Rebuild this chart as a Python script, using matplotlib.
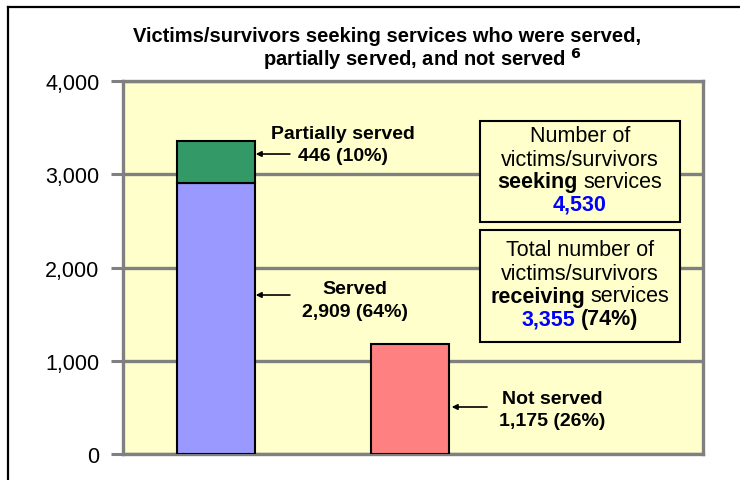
import matplotlib
matplotlib.use("Agg")
import matplotlib.pyplot as plt
from matplotlib.patches import Rectangle
from matplotlib.lines import Line2D
from matplotlib.offsetbox import TextArea, HPacker, AnnotationBbox
from matplotlib import font_manager

# ---- data ----
bar_positions = [0, 1]
served = [2909, 0]
partially_served = [446, 0]
not_served = [0, 1175]
total_seeking = 4530
total_receiving = 3355
pct_served = 64
pct_partial = 10
pct_not = 26
pct_receiving = 74
yticks = [0, 1000, 2000, 3000, 4000]
ytick_labels = ["0", "1,000", "2,000", "3,000", "4,000"]

avail = {f.name for f in font_manager.fontManager.ttflist}
FAM = [f for f in ["Liberation Sans Narrow", "Liberation Sans", "DejaVu Sans"] if f in avail]
plt.rcParams['font.family'] = FAM

fig = plt.figure(figsize=(7.4, 4.81), dpi=100)
ax = fig.add_axes([123/740, 1-455/481, (703-123)/740, (455-82)/481])
ax.set_facecolor("#FFFFCC")

grey = "#808080"
w = 0.40
ax.bar(bar_positions[0], served[0], width=w, color="#9999FF", edgecolor="black", linewidth=1.5, zorder=3)
ax.bar(bar_positions[0], partially_served[0], bottom=served[0], width=w, color="#339966",
       edgecolor="black", linewidth=1.5, zorder=3)
ax.bar(bar_positions[1], not_served[1], width=w, color="#FF8080", edgecolor="black", linewidth=1.5, zorder=3)

ax.set_xlim(-0.479, 2.51)
ax.set_ylim(0, 4000)
ax.set_yticks(yticks)
ax.set_yticklabels(ytick_labels, fontsize=15.5)
ax.set_xticks([])
ax.tick_params(axis='y', length=9, width=2.2, color=grey, pad=8)
for s in ax.spines.values():
    s.set_color(grey)
    s.set_linewidth(2.4)
ax.yaxis.grid(True, color=grey, linewidth=2.4, zorder=1)
ax.set_axisbelow(True)

# annotations with arrows
def label(text_lines, x_text, y_texts, x_tail, x_head, y_arrow):
    for t, yy in zip(text_lines, y_texts):
        ax.text(x_text, yy, t, ha="center", va="center", fontsize=14, fontweight="bold", zorder=5)
    ax.annotate("", xy=(x_head, y_arrow), xytext=(x_tail, y_arrow),
                arrowprops=dict(arrowstyle="-|>", color="black", lw=1.2,
                                mutation_scale=8, shrinkA=0, shrinkB=0), zorder=5)

label(["Partially served", f"{partially_served[0]} ({pct_partial}%)"], 0.655, [3432, 3196],
      0.381, 0.205, 3217)
label(["Served", f"{served[0]:,} ({pct_served}%)"], 0.716, [1770, 1533],
      0.381, 0.205, 1705)
label(["Not served", f"{not_served[1]:,} ({pct_not}%)"], 1.732, [590, 354],
      1.397, 1.215, 504)

# info boxes
def pxx(px):
    return (px - 123) / 580
def pxy(py):
    return (455 - py) / 373

for (top, bot) in [(122, 223), (231, 343)]:
    ax.add_patch(Rectangle((pxx(480), pxy(bot)), pxx(680) - pxx(480), pxy(top) - pxy(bot),
                           transform=ax.transAxes, facecolor="#FFFFCC", edgecolor="black",
                           linewidth=1.5, zorder=6))

def line(parts, py):
    areas = [TextArea(t, textprops=dict(fontsize=15.5, color=c, fontweight=fw, family=FAM)) for t, c, fw in parts]
    pack = HPacker(children=areas, pad=0, sep=4, align="baseline")
    ab = AnnotationBbox(pack, (pxx(580), pxy(py)), xycoords=ax.transAxes, frameon=False,
                        box_alignment=(0.5, 0.5), pad=0, zorder=7)
    ax.add_artist(ab)

line([("Number of", "black", "normal")], 137)
line([("victims/survivors", "black", "normal")], 160)
line([("seeking", "black", "bold"), ("services", "black", "normal")], 183)
line([(f"{total_seeking:,}", "#0000FF", "bold")], 205)
line([("Total number of", "black", "normal")], 251)
line([("victims/survivors", "black", "normal")], 274)
line([("receiving", "black", "bold"), ("services", "black", "normal")], 297)
line([(f"{total_receiving:,}", "#0000FF", "bold"), (f"({pct_receiving}%)", "black", "bold")], 320)

# title
fig.text(387/740, 1-37/481, "Victims/survivors seeking services who were served,",
         ha="center", va="center", fontsize=14.5, fontweight="bold")
fig.text(422/740, 1-59/481, r"partially served, and not served $^{\mathbf{6}}$",
         ha="center", va="center", fontsize=14.5, fontweight="bold")

# outer frame (partially visible)
x0 = 8/740
ytop = 1 - 8/481
fig.add_artist(Line2D([x0, x0], [0, ytop], color="black", lw=1.6, transform=fig.transFigure))
fig.add_artist(Line2D([x0, 1], [ytop, ytop], color="black", lw=1.6, transform=fig.transFigure))

fig.savefig("out.png", dpi=100)
